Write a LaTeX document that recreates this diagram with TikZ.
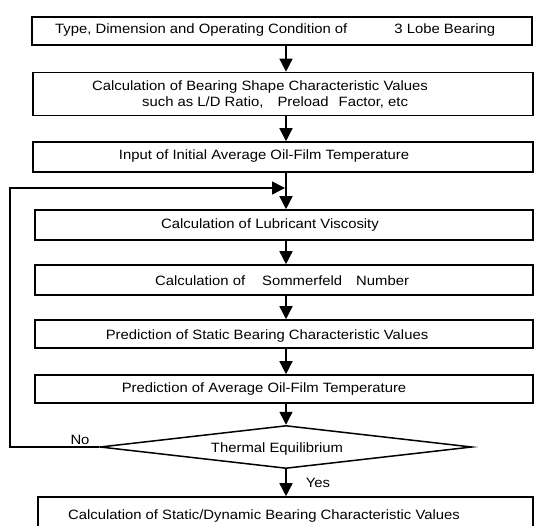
\documentclass[tikz,border=0pt]{standalone}
\usepackage{fontspec}
\setmainfont{Liberation Sans}[FakeStretch=1.1]
\usetikzlibrary{arrows.meta,shapes.geometric}
\begin{document}
\begin{tikzpicture}[x=1pt,y=-1pt,
  box/.style={draw, line width=1.6pt, rectangle, inner sep=0pt},
  dia/.style={draw, line width=1.5pt, diamond, aspect=8.6, inner sep=0pt},
  txt/.style={inner sep=0pt, font=\fontsize{13.5}{16}\selectfont},
  arr/.style={line width=1.5pt, -{Triangle[length=13pt,width=13pt]}}]
\clip (0,0) rectangle (535,525);
\fill[white] (0,0) rectangle (535,525);
\coordinate (ax) at (286,0);
% boxes
\node[box, minimum width=500pt, minimum height=28pt] (b1) at (282,31) {};
\node[box, minimum width=500pt, minimum height=43pt] (b2) at (283,94) {};
\node[box, minimum width=500pt, minimum height=30pt] (b3) at (283,157) {};
\node[box, minimum width=498pt, minimum height=30pt] (b4) at (284,225) {};
\node[box, minimum width=498pt, minimum height=30pt] (b5) at (284,280) {};
\node[box, minimum width=498pt, minimum height=28pt] (b6) at (284,334) {};
\node[box, minimum width=498pt, minimum height=28pt] (b7) at (284,389) {};
\node[dia, minimum width=372pt, minimum height=43pt] (d) at (286,447) {};
\node[box, minimum width=495pt, minimum height=40pt] (b8) at (285.5,517) {};
% texts
\node[txt, anchor=west] (t1) at (55,30) {Type, Dimension and Operating Condition of\hspace{47pt}3 Lobe Bearing};
\node[txt, anchor=west, align=left] (t2) at (92,94) {Calculation of Bearing Shape Characteristic Values\\\hspace*{50pt}such as L/D Ratio,\hspace{14pt}Preload\hspace{10pt}Factor, etc};
\node[txt] (t3) at (264,156) {Input of Initial Average Oil-Film Temperature};
\node[txt] (t4) at (270,225) {Calculation of Lubricant Viscosity};
\node[txt, anchor=west] (t5) at (155,281) {Calculation of\hspace{17pt}Sommerfeld\hspace{14pt}Number};
\node[txt] (t6) at (267,336) {Prediction of Static Bearing Characteristic Values};
\node[txt] (t7) at (264,389) {Prediction of Average Oil-Film Temperature};
\node[txt] (t8) at (277,449) {Thermal Equilibrium};
\node[txt] (t9) at (264,516) {Calculation of Static/Dynamic Bearing Characteristic Values};
\node[txt] (no) at (80,440) {No};
\node[txt] (yes) at (318,483) {Yes};
% connectors
\draw[arr] (b1.south -| ax) -- (b2.north -| ax);
\draw[arr] (b2.south -| ax) -- (b3.north -| ax);
\draw[arr] (b3.south -| ax) -- (b4.north -| ax);
\draw[arr] (b4.south -| ax) -- (b5.north -| ax);
\draw[arr] (b5.south -| ax) -- (b6.north -| ax);
\draw[arr] (b6.south -| ax) -- (b7.north -| ax);
\draw[arr] (b7.south -| ax) -- (d.north);
\draw[arr] (d.south) -- (b8.north -| ax);
\coordinate (lp) at (10,188);
\coordinate (jn) at (285,188);
\draw[arr] (d.west) -- (d.west -| lp) -- (lp) -- (jn);
\end{tikzpicture}
\end{document}
